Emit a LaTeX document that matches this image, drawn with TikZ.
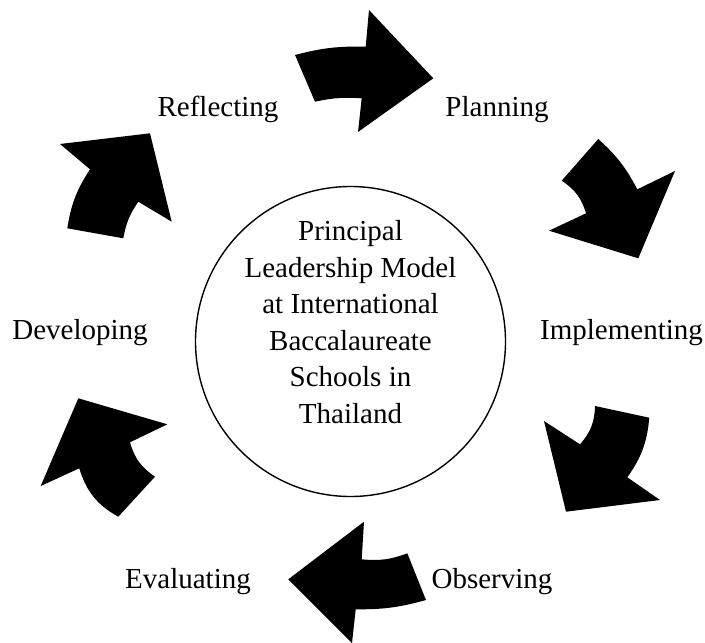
\documentclass[tikz,border=0pt]{standalone}
\usepackage{fontspec}
\setmainfont{Liberation Serif}
\begin{document}
\begin{tikzpicture}[x=1pt,y=-1pt,
  blockarrow/.style={fill=black,draw=none},
  lbl/.style={font=\fontsize{29}{36.5}\selectfont,anchor=base,inner sep=0pt},
  hub/.style={draw=black,line width=1.4pt,circle,minimum size=310pt,inner sep=0pt}]
\useasboundingbox (0,0) rectangle (705,643);
% centre
\node[hub] (hub) at (350.5,341.5) {};
\node[font=\fontsize{29}{36.5}\selectfont,align=center,inner sep=0pt] (hubtext) at (350.5,322) {Principal\\Leadership Model\\at International\\Baccalaureate\\Schools in\\Thailand};
% labels
\node[lbl] (refl) at (218,116) {Reflecting};
\node[lbl] (plan) at (497,116) {Planning};
\node[lbl] (impl) at (621.5,339) {Implementing};
\node[lbl] (devl) at (80,339) {Developing};
\node[lbl] (eval) at (188,588) {Evaluating};
\node[lbl] (obsv) at (492,588) {Observing};
% arrows
% 1 Reflecting -> Planning
\fill[blockarrow] (315,101.7) -- (295,55) to[bend left=8] (365.7,46.7) -- (369,10) -- (433.3,78.3) -- (358,132) -- (361.7,98.3) to[bend right=8] cycle;
% 2 Planning -> Implementing
\fill[blockarrow] (561.7,180.7) -- (598.3,139) to[bend left=10] (637.3,189.3) -- (675,171) -- (638.3,258.3) -- (549,230.7) -- (586,213.3) to[bend right=20] cycle;
% 3 Implementing -> Observing
\fill[blockarrow] (595,406) -- (649.3,417.7) to[bend left=15] (627.3,477.3) -- (660,500) -- (566,511.7) -- (544,421) -- (580,444.3) to[bend right=20] cycle;
% 4 Observing -> Evaluating
\fill[blockarrow] (407.3,553.3) -- (426,600) to[bend left=8] (355.7,609.3) -- (352,643) -- (288.3,579.3) -- (364,521.7) -- (361.7,559.3) to[bend right=13] cycle;
% 5 Evaluating -> Developing
\fill[blockarrow] (155,476.7) -- (118.3,516.7) to[bend left=22] (79.3,468.3) -- (40.7,486) -- (78.3,398.3) -- (167.3,424.3) -- (130,442.3) to[bend right=20] cycle;
% 6 Developing -> Reflecting
\fill[blockarrow] (123.3,238.3) -- (67.3,228.3) to[bend left=12] (90,169.3) -- (60,144) -- (150,133.3) -- (171.7,221.7) -- (138.3,201.7) to[bend right=12] cycle;
\end{tikzpicture}
\end{document}
